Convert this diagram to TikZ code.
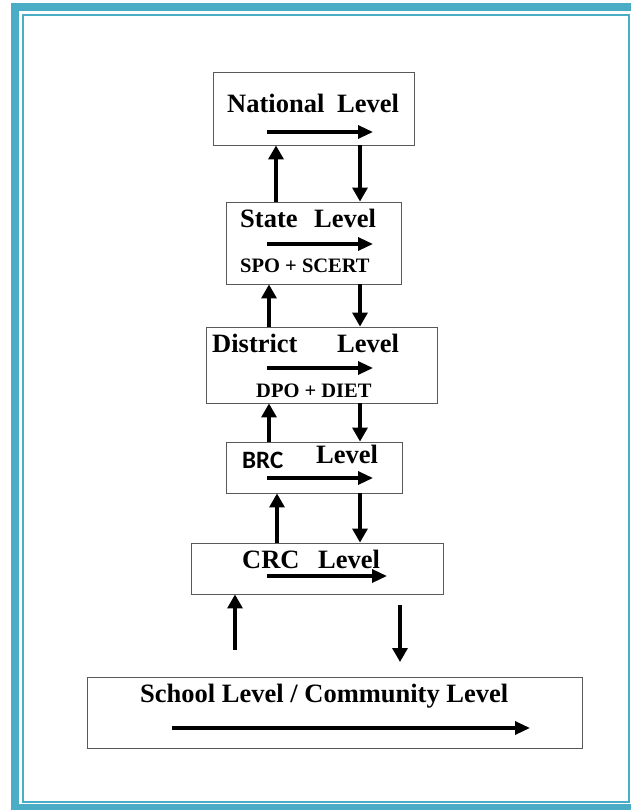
\documentclass[tikz,border=0pt]{standalone}
\usepackage{fontspec}
\setmainfont{Liberation Serif}
\newfontfamily\brcfont{Carlito}
\usetikzlibrary{arrows.meta}
\definecolor{frame}{HTML}{4BACC6}
\begin{document}
\begin{tikzpicture}[x=1pt,y=-1pt,
 box/.style={draw=black!65, line width=0.9pt, inner sep=0pt},
 big/.style={font=\fontsize{26.5}{30}\selectfont\bfseries, inner sep=0pt, anchor=base west},
 small/.style={font=\fontsize{20.5}{24}\selectfont\bfseries, inner sep=0pt, anchor=base west},
 flow/.style={line width=3.2pt, -{Triangle[length=15pt,width=13pt]}},
 link/.style={line width=3.2pt, -{Triangle[length=14pt,width=15pt]}}]
\useasboundingbox (0,0) rectangle (630,810);
% frame
\draw[frame, line width=8pt] (15,7) rectangle (645,808);
\draw[frame, line width=2pt] (23,15) rectangle (628.5,802);
% boxes
\node[box, minimum width=201pt, minimum height=73pt] (nat) at (313.5,108.5) {};
\node[box, minimum width=175pt, minimum height=82pt] (state) at (313.5,243) {};
\node[box, minimum width=231pt, minimum height=76pt] (dist) at (321.5,365) {};
\node[box, minimum width=176pt, minimum height=51pt] (brc) at (314,467.5) {};
\node[box, minimum width=252pt, minimum height=51pt] (crc) at (317,568.5) {};
\node[box, minimum width=495pt, minimum height=71pt] (school) at (334.5,712.5) {};
% texts
\node[big] (t1) at (227,113) {National};
\node[big] (t2) at (337,113) {Level};
\node[big] (t3) at (240,227) {State};
\node[big] (t4) at (314,227) {Level};
\node[small] (t5) at (240,272) {SPO + SCERT};
\node[big] (t6) at (212,352) {District};
\node[big] (t7) at (337,352) {Level};
\node[small] (t8) at (256,397) {DPO + DIET};
\node[inner sep=0pt, anchor=base west, font=\brcfont\fontsize{25}{28}\selectfont\bfseries] (t9) at (242,468) {BRC};
\node[big] (t10) at (316,463) {Level};
\node[big] (t11) at (242,568) {CRC};
\node[big] (t12) at (318,568) {Level};
\node[big] (t13) at (140,702) {School Level / Community Level};
% inner arrows
\coordinate (a1) at (267,132); \coordinate (b1) at (373,132);
\coordinate (a2) at (267,244); \coordinate (b2) at (373,244);
\coordinate (a3) at (267,368); \coordinate (b3) at (373,368);
\coordinate (a4) at (267,478); \coordinate (b4) at (373,478);
\coordinate (a5) at (267,576); \coordinate (b5) at (387,576);
\coordinate (a6) at (172,728); \coordinate (b6) at (530,728);
\foreach \i in {1,...,6} \draw[flow] (a\i) -- (b\i);
% vertical links
\draw[link, line width=4.8pt] (state.north -| 276,0) -- (nat.south -| 276,0);
\draw[link] (nat.south -| 360,0) -- (state.north -| 360,0);
\draw[link] (dist.north -| 269,0) -- (state.south -| 269,0);
\draw[link] (state.south -| 360,0) -- (dist.north -| 360,0);
\draw[link] (brc.north -| 269,0) -- (dist.south -| 269,0);
\draw[link] (dist.south -| 360,0) -- (brc.north -| 360,0);
\draw[link] (crc.north -| 277,0) -- (brc.south -| 277,0);
\draw[link] (brc.south -| 360,0) -- (crc.north -| 360,0);
\coordinate (u0) at (235,650);
\draw[link] (u0) -- (crc.south -| u0);
\coordinate (d0) at (400,605); \coordinate (d1) at (400,662);
\draw[link] (d0) -- (d1);
\end{tikzpicture}
\end{document}
